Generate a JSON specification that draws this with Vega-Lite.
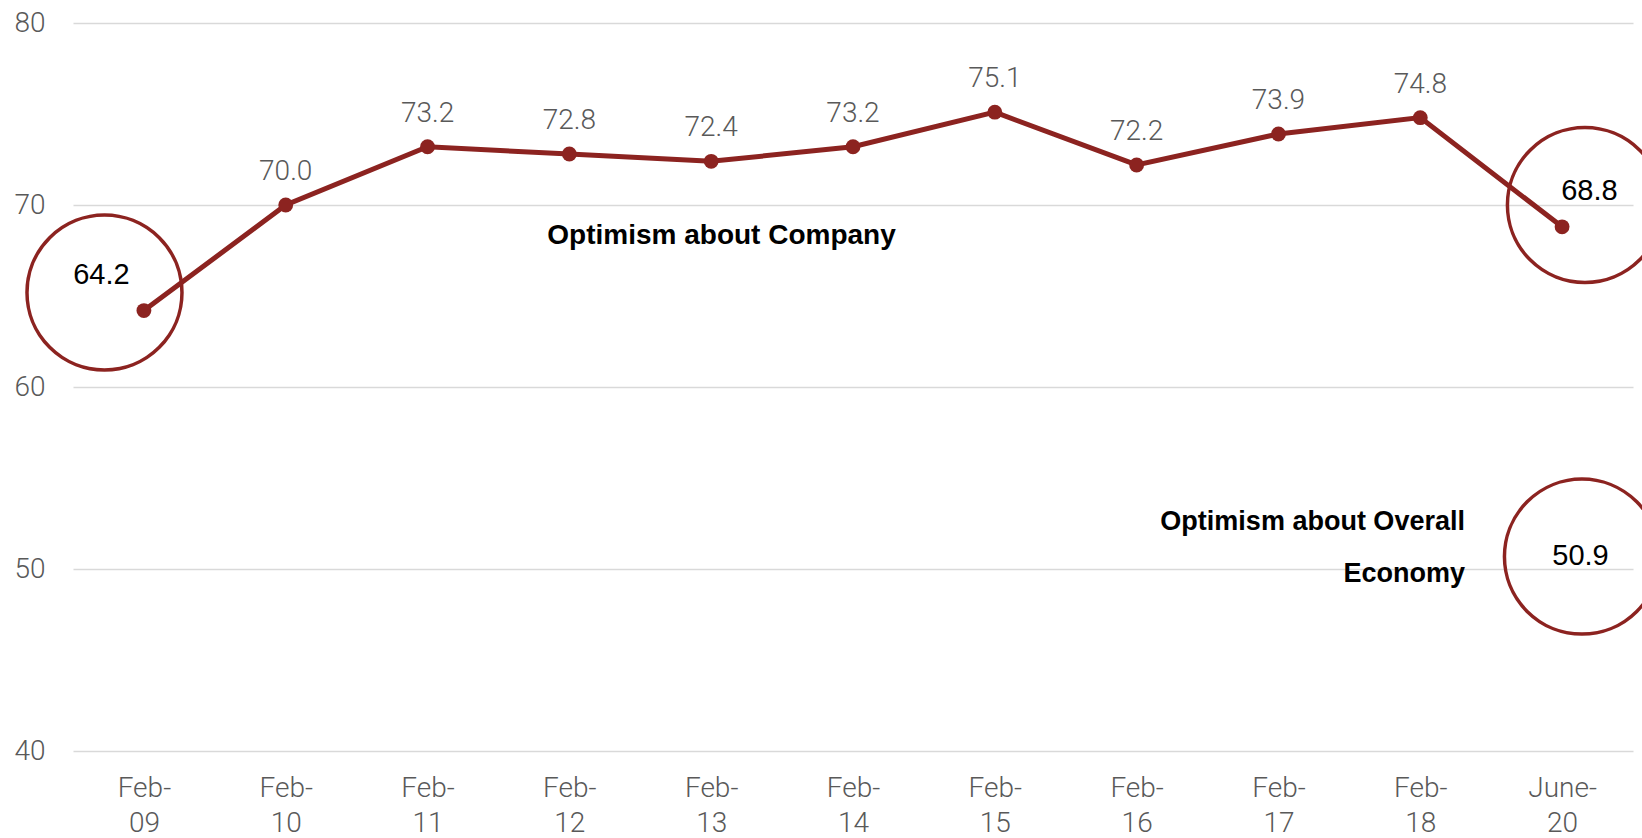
{
  "$schema": "https://vega.github.io/schema/vega-lite/v6.json",
  "autosize": {"type": "none"},
  "padding": {"left": 73, "top": 23, "right": 9, "bottom": 87},
  "width": 1560,
  "height": 728,
  "background": "white",
  "config": {"view": {"stroke": null}},
  "datasets": {
    "series": [
      {"period": "Feb-09", "i": 0, "value": 64.2},
      {"period": "Feb-10", "i": 1, "value": 70.0},
      {"period": "Feb-11", "i": 2, "value": 73.2},
      {"period": "Feb-12", "i": 3, "value": 72.8},
      {"period": "Feb-13", "i": 4, "value": 72.4},
      {"period": "Feb-14", "i": 5, "value": 73.2},
      {"period": "Feb-15", "i": 6, "value": 75.1},
      {"period": "Feb-16", "i": 7, "value": 72.2},
      {"period": "Feb-17", "i": 8, "value": 73.9},
      {"period": "Feb-18", "i": 9, "value": 74.8},
      {"period": "June-20", "i": 10, "value": 68.8}
    ],
    "circles": [
      {"name": "first", "x": -0.278, "y": 65.19},
      {"name": "last", "x": 10.161, "y": 70.0},
      {"name": "economy", "x": 10.14, "y": 50.68}
    ],
    "callouts": [
      {"label": "64.2", "x": -0.30, "y": 66.13},
      {"label": "68.8", "x": 10.193, "y": 70.75},
      {"label": "50.9", "x": 10.13, "y": 50.71}
    ],
    "noteCompany": [
      {"note": "Optimism about Company", "x": 4.073, "y": 67.84}
    ],
    "noteEconomy": [
      {"note": ["Optimism about Overall", "Economy"], "x": 9.315, "y": 52.17}
    ]
  },
  "layer": [
    {
      "data": {"name": "series"},
      "mark": {"type": "line", "color": "#8C2320", "strokeWidth": 5,
               "point": {"filled": true, "size": 220, "color": "#8C2320"}},
      "encoding": {
        "x": {"field": "i", "type": "quantitative",
              "scale": {"domain": [-0.5, 10.5], "nice": false, "zero": false},
              "axis": {"title": null, "values": [0,1,2,3,4,5,6,7,8,9,10],
                       "labelExpr": "datum.value == 10 ? ['June-', '20'] : ['Feb-', format(datum.value + 9, '02d')]",
                       "grid": false, "domain": false, "ticks": false,
                       "labelPadding": 23, "labelFont": "Roboto", "labelFontWeight": 300,
                       "labelFontSize": 28, "labelColor": "#595959", "labelLineHeight": 35,
                       "labelBaseline": "top", "labelAlign": "center", "labelOverlap": false, "labelFlush": false}},
        "y": {"field": "value", "type": "quantitative",
              "scale": {"domain": [40, 80], "nice": false, "zero": false},
              "axis": {"title": null, "values": [40, 50, 60, 70, 80],
                       "grid": true, "gridColor": "#d9d9d9", "gridWidth": 1.5,
                       "domain": false, "ticks": false, "labelPadding": 28,
                       "labelFont": "Roboto", "labelFontWeight": 300, "labelFontSize": 28,
                       "labelColor": "#595959", "labelBaseline": "middle"}}
      }
    },
    {
      "data": {"name": "series"},
      "transform": [{"filter": "datum.i > 0 && datum.i < 10"}],
      "mark": {"type": "text", "font": "Roboto", "fontWeight": 300, "fontSize": 28,
               "color": "#595959", "align": "center", "baseline": "alphabetic", "dy": -25},
      "encoding": {
        "x": {"field": "i", "type": "quantitative"},
        "y": {"field": "value", "type": "quantitative"},
        "text": {"field": "value", "type": "quantitative", "format": ".1f"}
      }
    },
    {
      "data": {"name": "circles"},
      "mark": {"type": "point", "shape": "circle", "filled": false, "size": 24025,
               "stroke": "#8C2320", "strokeWidth": 3.5, "opacity": 1},
      "encoding": {
        "x": {"field": "x", "type": "quantitative"},
        "y": {"field": "y", "type": "quantitative"}
      }
    },
    {
      "data": {"name": "callouts"},
      "mark": {"type": "text", "font": "Liberation Sans", "fontSize": 29,
               "color": "#000000", "align": "center", "baseline": "middle"},
      "encoding": {
        "x": {"field": "x", "type": "quantitative"},
        "y": {"field": "y", "type": "quantitative"},
        "text": {"field": "label"}
      }
    },
    {
      "data": {"name": "noteCompany"},
      "mark": {"type": "text", "font": "Liberation Sans", "fontWeight": "bold", "fontSize": 28,
               "color": "#000000", "align": "center", "baseline": "alphabetic"},
      "encoding": {
        "x": {"field": "x", "type": "quantitative"},
        "y": {"field": "y", "type": "quantitative"},
        "text": {"field": "note"}
      }
    },
    {
      "data": {"name": "noteEconomy"},
      "mark": {"type": "text", "font": "Liberation Sans", "fontWeight": "bold", "fontSize": 27,
               "color": "#000000", "align": "right", "baseline": "alphabetic", "lineHeight": 52},
      "encoding": {
        "x": {"field": "x", "type": "quantitative"},
        "y": {"field": "y", "type": "quantitative"},
        "text": {"field": "note"}
      }
    }
  ]
}
